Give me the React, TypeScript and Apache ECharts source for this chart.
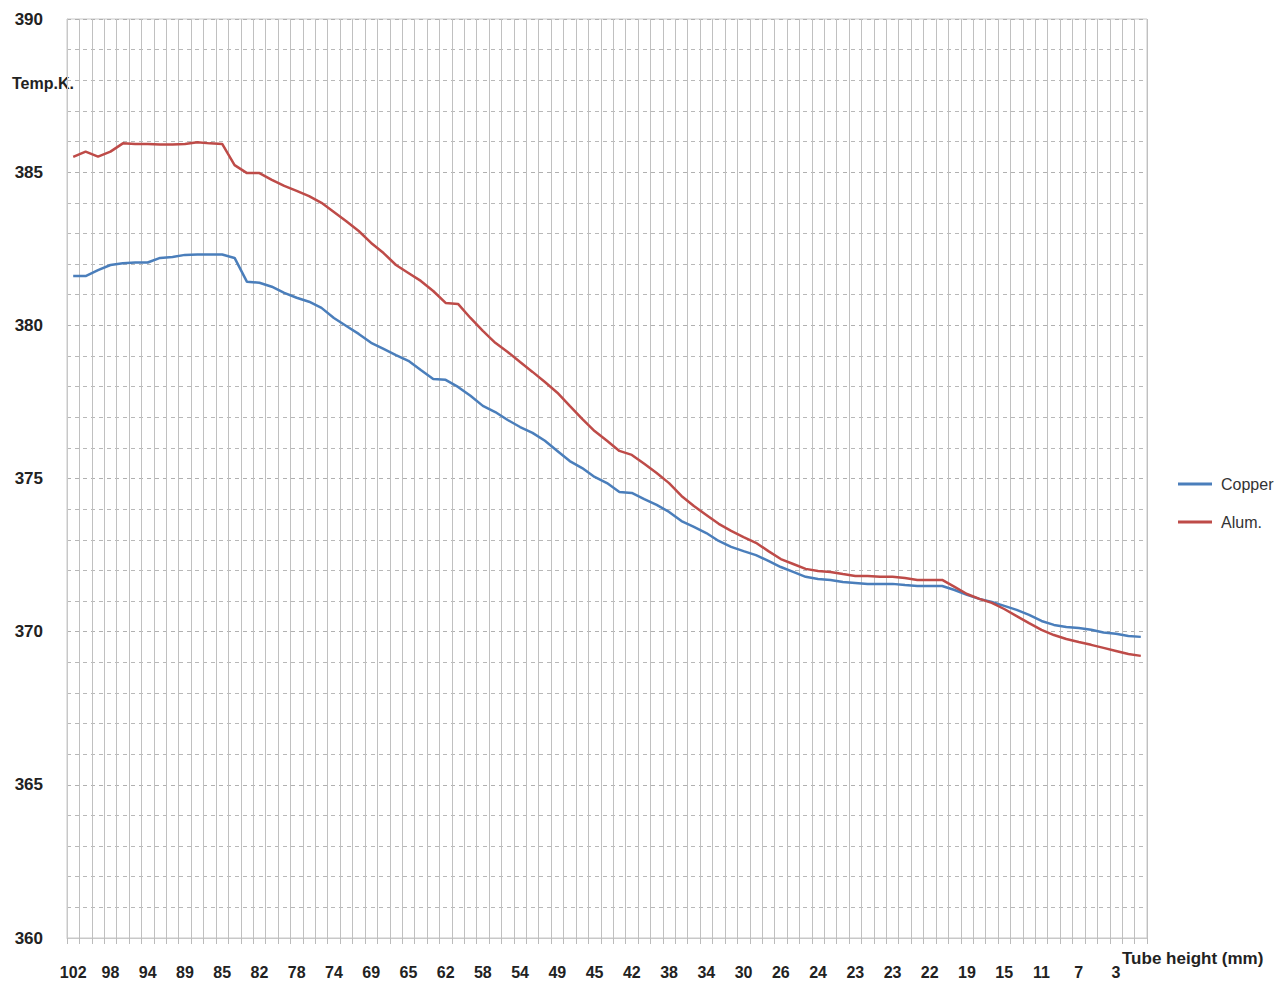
import React, { useEffect, useRef } from "react";
import * as echarts from "echarts";

const categories: string[] = [
  "102", "101", "99", "98", "97", "95", "94", "92", "91", "89", "88", "86",
  "85", "84", "83", "82", "80", "79", "78", "77", "75", "74", "72", "71",
  "69", "68", "66", "65", "64", "63", "62", "61", "59", "58", "57", "55",
  "54", "52", "51", "49", "48", "46", "45", "44", "43", "42", "41", "39",
  "38", "37", "35", "34", "33", "31", "30", "29", "27", "26", "25", "25",
  "24", "24", "23", "23", "23", "23", "23", "23", "23", "22", "21", "20",
  "19", "18", "16", "15", "14", "12", "11", "10", "8", "7", "6", "4",
  "3", "2", "1",
];

const copper: number[] = [
  381.61, 381.61, 381.8, 381.97, 382.03, 382.05, 382.05, 382.2, 382.23, 382.3,
  382.31, 382.31, 382.31, 382.2, 381.42, 381.39, 381.26, 381.06, 380.9, 380.77,
  380.57, 380.24, 379.98, 379.72, 379.43, 379.23, 379.03, 378.84, 378.54, 378.25,
  378.22, 377.99, 377.7, 377.37, 377.17, 376.91, 376.68, 376.49, 376.23, 375.9,
  375.57, 375.34, 375.05, 374.85, 374.56, 374.53, 374.33, 374.14, 373.91, 373.61,
  373.42, 373.22, 372.96, 372.77, 372.63, 372.5, 372.31, 372.11, 371.95, 371.79,
  371.72, 371.69, 371.62, 371.59, 371.56, 371.56, 371.56, 371.52, 371.49, 371.49,
  371.49, 371.36, 371.2, 371.07, 370.97, 370.84, 370.71, 370.55, 370.35, 370.22,
  370.15, 370.12, 370.06, 369.97, 369.93, 369.86, 369.83,
];

const alum: number[] = [
  385.5, 385.67, 385.51, 385.67, 385.94, 385.92, 385.92, 385.9, 385.9, 385.92,
  385.98, 385.94, 385.92, 385.23, 384.97, 384.97, 384.75, 384.55, 384.39, 384.22,
  384.0, 383.7, 383.4, 383.08, 382.69, 382.36, 381.97, 381.71, 381.45, 381.12,
  380.73, 380.7, 380.24, 379.82, 379.43, 379.13, 378.8, 378.48, 378.15, 377.8,
  377.37, 376.95, 376.55, 376.23, 375.9, 375.77, 375.48, 375.18, 374.85, 374.43,
  374.1, 373.81, 373.52, 373.29, 373.09, 372.9, 372.63, 372.37, 372.21, 372.05,
  371.98, 371.95, 371.88, 371.82, 371.82, 371.79, 371.79, 371.75, 371.69, 371.69,
  371.69, 371.46, 371.23, 371.07, 370.94, 370.74, 370.51, 370.28, 370.06, 369.89,
  369.76, 369.66, 369.57, 369.47, 369.37, 369.27, 369.21,
];

const seriesNames: string[] = ["Copper", "Alum."];
const yTicks = { min: 360, max: 390, step: 5 };

export default function App() {
  const ref = useRef<HTMLDivElement>(null);

  useEffect(() => {
    document.body.style.margin = "0";
    if (!ref.current) return;
    const chart = echarts.init(ref.current, null, { renderer: "svg" });
    const font = "'Liberation Sans', Arial, sans-serif";
    chart.setOption({
      animation: false,
      backgroundColor: "#ffffff",
      textStyle: { fontFamily: font },
      grid: {
        left: 67,
        right: 141,
        top: 19,
        bottom: 51,
        show: true,
        borderColor: "#c8c8c8",
        borderWidth: 1,
        backgroundColor: "transparent",
      },
      legend: {
        orient: "vertical",
        left: 1173,
        top: 471,
        itemWidth: 34,
        itemHeight: 3,
        itemGap: 22,
        icon: "rect",
        textStyle: { fontSize: 16, color: "#333", fontFamily: font, padding: [0, 0, 0, 4] },
        data: seriesNames,
      },
      xAxis: {
        type: "category",
        data: categories,
        boundaryGap: true,
        axisLine: { show: true, lineStyle: { color: "#c8c8c8" } },
        axisTick: { show: true, interval: 0, length: 6, lineStyle: { color: "#bbbbbb" } },
        axisLabel: {
          interval: 2,
          margin: 26,
          fontSize: 16,
          fontWeight: "bold",
          color: "#222",
          fontFamily: font,
        },
        splitLine: { show: true, interval: 0, lineStyle: { color: "#c0c0c0", width: 1 } },
      },
      yAxis: {
        type: "value",
        min: yTicks.min,
        max: yTicks.max,
        interval: yTicks.step,
        axisLine: { show: true, lineStyle: { color: "#c8c8c8" } },
        axisTick: { show: false },
        axisLabel: {
          margin: 24,
          fontSize: 17,
          fontWeight: "bold",
          color: "#222",
          fontFamily: font,
        },
        splitLine: { show: true, lineStyle: { color: "#b0b0b0", type: [4, 4], width: 1 } },
        minorTick: { show: false, splitNumber: 5 },
        minorSplitLine: { show: true, lineStyle: { color: "#b8b8b8", type: [4, 4], width: 1 } },
      },
      graphic: [
        {
          type: "text",
          left: 12,
          top: 75,
          style: { text: "Temp.K.", fontSize: 16, fontWeight: "bold", fill: "#222", fontFamily: font },
        },
        {
          type: "text",
          left: 1122,
          top: 950,
          style: { text: "Tube height (mm)", fontSize: 17, fontWeight: "bold", fill: "#222", fontFamily: font },
        },
      ],
      series: [
        {
          name: seriesNames[0],
          type: "line",
          data: copper,
          showSymbol: false,
          symbol: "none",
          lineStyle: { color: "#4a7ebb", width: 2.5 },
          itemStyle: { color: "#4a7ebb" },
        },
        {
          name: seriesNames[1],
          type: "line",
          data: alum,
          showSymbol: false,
          symbol: "none",
          lineStyle: { color: "#be4b48", width: 2.5 },
          itemStyle: { color: "#be4b48" },
        },
      ],
    });
    return () => chart.dispose();
  }, []);

  return <div ref={ref} style={{ width: 1288, height: 989 }} />;
}
